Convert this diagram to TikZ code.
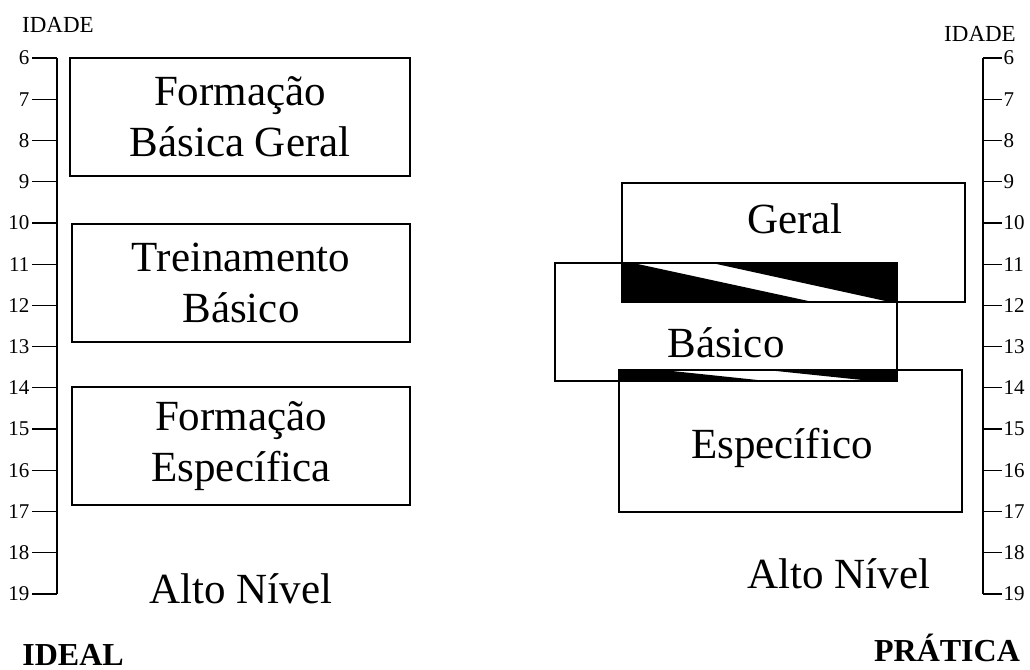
\documentclass[tikz,border=0pt]{standalone}
\usepackage{fontspec}
\setmainfont{Liberation Serif}
\begin{document}
\begin{tikzpicture}[x=0.5pt,y=-0.5pt,
    caixa/.style={draw,line width=0.6pt,inner sep=0pt,align=center,
      font=\fontsize{21.5}{25.5}\selectfont},
    texto/.style={inner sep=0pt,font=\fontsize{21.5}{25.5}\selectfont},
    idade/.style={inner sep=0pt,font=\fontsize{11.5}{13}\selectfont},
    numero/.style={inner sep=1pt,font=\fontsize{10.5}{12}\selectfont},
    titulo/.style={inner sep=0pt,font=\fontsize{16}{19}\selectfont\bfseries}]
    \useasboundingbox (0,0) rectangle (1030,670);
    %% eixo IDEAL
    \node[idade,anchor=base] (idadeE) at (58,32) {IDADE};
    \draw[line width=0.6pt] (57,58) -- (57,594);
    \foreach \i in {6,...,19}
        \draw[line width=0.6pt] (57,{58+(\i-6)*41.23}) -- ++(-25,0)
            node[numero,anchor=east] (e\i) {\i};
    %% caixas IDEAL
    \node[caixa,minimum width=170pt,minimum height=59pt] (fbg) at (240,117)
        {Formação\\Básica Geral};
    \node[caixa,minimum width=169pt,minimum height=59pt] (tb) at (241,283)
        {Treinamento\\Básico};
    \node[caixa,minimum width=169pt,minimum height=59pt] (fe) at (241,446)
        {Formação\\Específica};
    \node[texto,anchor=base] (altoE) at (241,603) {Alto Nível};
    \node[titulo,anchor=base west] (ideal) at (22,665) {IDEAL};
    %% eixo PRATICA
    \node[idade,anchor=base] (idadeD) at (980,41) {IDADE};
    \draw[line width=0.6pt] (983,58) -- (983,594);
    \foreach \i in {6,...,19}
        \draw[line width=0.6pt] (983,{58+(\i-6)*41.23}) -- ++(19,0)
            node[numero,anchor=west,inner sep=0.5pt] (d\i) {\i};
    %% caixas PRATICA
    \node[caixa,minimum width=171.5pt,minimum height=59.5pt] (geral) at (793.5,242.5) {};
    \node[caixa,minimum width=171pt,minimum height=59pt] (basico) at (726,322) {};
    \node[caixa,minimum width=171.5pt,minimum height=71pt] (espec) at (790.5,441) {};
    %% sobreposicoes
    \fill (622,263) -- (633,263) -- (813,302) -- (622,302) -- cycle;
    \fill (712,263) -- (897,263) -- (897,302) -- (890,302) -- cycle;
    \fill (619,369) -- (653,369) -- (767,381) -- (619,381) -- cycle;
    \fill (757,369) -- (897,369) -- (897,381) -- (872,381) -- cycle;
    \node[texto,anchor=base] (tgeral) at (795,233) {Geral};
    \node[texto,anchor=base] (tbasico) at (726,357) {Básico};
    \node[texto,anchor=base] (tespec) at (782,458) {Específico};
    \node[texto,anchor=base] (altoD) at (839,588) {Alto Nível};
    \node[titulo,anchor=base] (pratica) at (947,661) {PRÁTICA};
\end{tikzpicture}
\end{document}
